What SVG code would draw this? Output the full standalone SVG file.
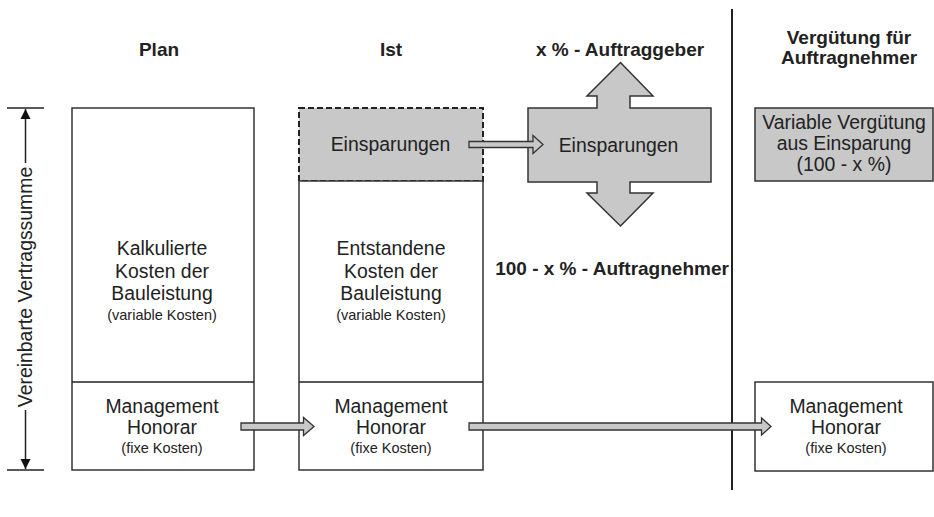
<svg xmlns="http://www.w3.org/2000/svg" width="934" height="517" viewBox="0 0 934 517">
<style>
text{font-family:"Liberation Sans",Arial,sans-serif;fill:#222}
.h{font-size:19px;font-weight:bold;text-anchor:middle}
.t{font-size:19.4px;text-anchor:middle}
.s{font-size:14.5px;text-anchor:middle}
.box{fill:#fff;stroke:#333;stroke-width:1.5}
.gbox{fill:#c8c8c8;stroke:#333;stroke-width:1.5}
.dash{fill:#c8c8c8;stroke:#222;stroke-width:2;stroke-dasharray:6 3}
.arr{fill:#c8c8c8;stroke:#333;stroke-width:1.3;stroke-linejoin:miter}
.ln{stroke:#222;stroke-width:1.5;fill:none}
</style>
<defs>
<marker id="ah" viewBox="0 0 10 10" refX="10" refY="5" markerWidth="10" markerHeight="15" markerUnits="userSpaceOnUse" orient="auto">
<path d="M0,0 L10,5 L0,10 Z" fill="#111"/>
</marker>
</defs>

<g id="headers">
<text class="h" x="159" y="56">Plan</text>
<text class="h" x="391" y="56">Ist</text>
<text class="h" x="620" y="56">x % - Auftraggeber</text>
<text class="h" x="849" y="44">Vergütung für</text>
<text class="h" x="849" y="64">Auftragnehmer</text>
<text class="h" x="612" y="275">100 - x % - Auftragnehmer</text>
</g>

<g id="divider">
<line x1="732" y1="9" x2="732" y2="490" stroke="#222" stroke-width="2"/>
</g>

<g id="vertragssumme">
<line class="ln" x1="7" y1="108" x2="44" y2="108"/>
<line class="ln" x1="7" y1="470" x2="44" y2="470"/>
<line class="ln" x1="25.5" y1="163" x2="25.5" y2="109" marker-end="url(#ah)"/>
<line class="ln" x1="25.5" y1="410" x2="25.5" y2="469" marker-end="url(#ah)"/>
<text class="t" transform="translate(31.5,287) rotate(-90)" x="0" y="0">Vereinbarte Vertragssumme</text>
</g>

<g id="plan">
<rect class="box" x="72" y="108" width="182" height="362"/>
<line class="ln" x1="72" y1="382" x2="254" y2="382"/>
<text class="t" x="162" y="255">Kalkulierte</text>
<text class="t" x="162" y="278">Kosten der</text>
<text class="t" x="162" y="300">Bauleistung</text>
<text class="s" x="162" y="320">(variable Kosten)</text>
<text class="t" x="162" y="413">Management</text>
<text class="t" x="162" y="434">Honorar</text>
<text class="s" x="162" y="453">(fixe Kosten)</text>
</g>

<g id="ist">
<rect class="dash" x="299" y="108" width="184" height="73"/>
<rect class="box" x="299" y="181" width="184" height="289"/>
<line class="ln" x1="299" y1="382" x2="483" y2="382"/>
<text class="t" x="390.5" y="151">Einsparungen</text>
<text class="t" x="391" y="255">Entstandene</text>
<text class="t" x="391" y="278">Kosten der</text>
<text class="t" x="391" y="300">Bauleistung</text>
<text class="s" x="391" y="320">(variable Kosten)</text>
<text class="t" x="391" y="413">Management</text>
<text class="t" x="391" y="434">Honorar</text>
<text class="s" x="391" y="453">(fixe Kosten)</text>
</g>

<g id="einsparungen-split">
<path class="gbox" d="M528,108 H597 V96 H587 L620.5,62.5 L653,96 H630 V108 H711 V182 H630 V193 H653 L620.5,226 L587,193 H597 V182 H528 Z"/>
<text class="t" x="618.5" y="152">Einsparungen</text>
</g>

<g id="variable-verguetung">
<rect class="gbox" x="755" y="108" width="178" height="73"/>
<text class="t" x="844" y="129">Variable Vergütung</text>
<text class="t" x="844" y="150">aus Einsparung</text>
<text class="t" x="844" y="171">(100 - x %)</text>
</g>

<g id="management-an">
<rect class="box" x="755" y="382" width="178" height="89"/>
<text class="t" x="846" y="413">Management</text>
<text class="t" x="846" y="434">Honorar</text>
<text class="s" x="846" y="453">(fixe Kosten)</text>
</g>

<g id="connectors">
<path class="arr" d="M469,141.5 H533 V135.5 L543,144.5 L533,153.5 V147.5 H469 Z"/>
<path class="arr" d="M241,423 H303.5 V417.5 L314,426.5 L303.5,435.5 V430 H241 Z"/>
<path class="arr" d="M469,423 H761.5 V418 L771,426.5 L761.5,435 V430 H469 Z"/>
</g>
</svg>
